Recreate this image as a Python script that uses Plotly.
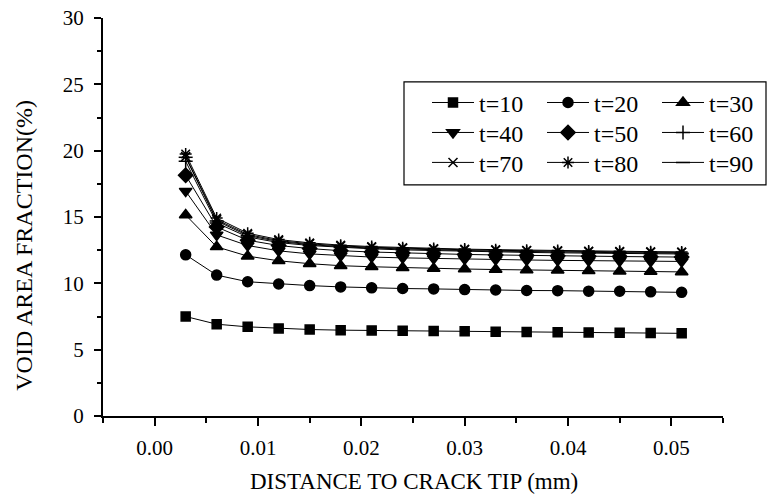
import plotly.graph_objects as go

distance = [0.003, 0.006, 0.009, 0.012, 0.015, 0.018, 0.021, 0.024, 0.027,
            0.030, 0.033, 0.036, 0.039, 0.042, 0.045, 0.048, 0.051]

t10 = [7.50, 6.92, 6.72, 6.60, 6.52, 6.47, 6.45, 6.43, 6.40, 6.38, 6.35, 6.33, 6.32, 6.30, 6.28, 6.26, 6.23]
t20 = [12.15, 10.62, 10.12, 9.95, 9.83, 9.73, 9.66, 9.61, 9.58, 9.53, 9.50, 9.46, 9.45, 9.41, 9.40, 9.36, 9.32]
t30 = [15.15, 12.75, 12.05, 11.70, 11.48, 11.33, 11.25, 11.18, 11.12, 11.08, 11.04, 11.01, 10.98, 10.95, 10.92, 10.89, 10.86]
t40 = [16.95, 13.65, 12.85, 12.45, 12.22, 12.08, 11.98, 11.92, 11.87, 11.83, 11.79, 11.76, 11.73, 11.71, 11.69, 11.67, 11.65]
t50 = [18.15, 14.25, 13.25, 12.85, 12.62, 12.46, 12.36, 12.29, 12.23, 12.18, 12.14, 12.10, 12.07, 12.04, 12.02, 12.00, 11.98]
t60 = [19.20, 14.55, 13.50, 13.07, 12.85, 12.70, 12.60, 12.52, 12.46, 12.41, 12.37, 12.33, 12.30, 12.27, 12.25, 12.23, 12.21]
t70 = [19.55, 14.80, 13.68, 13.22, 12.98, 12.82, 12.72, 12.64, 12.58, 12.53, 12.49, 12.45, 12.42, 12.39, 12.37, 12.35, 12.33]
t80 = [19.75, 14.92, 13.78, 13.30, 13.05, 12.88, 12.77, 12.69, 12.63, 12.58, 12.54, 12.50, 12.47, 12.44, 12.41, 12.39, 12.37]
t90 = [19.50, 14.70, 13.60, 13.15, 12.92, 12.76, 12.66, 12.58, 12.52, 12.47, 12.43, 12.39, 12.36, 12.33, 12.31, 12.29, 12.27]

series_names = ["t=10", "t=20", "t=30", "t=40", "t=50", "t=60", "t=70", "t=80", "t=90"]
series_values = [t10, t20, t30, t40, t50, t60, t70, t80, t90]

x_tickvals = [0.00, 0.01, 0.02, 0.03, 0.04, 0.05]
x_ticktext = ["0.00", "0.01", "0.02", "0.03", "0.04", "0.05"]
y_tickvals = [0, 5, 10, 15, 20, 25, 30]
y_ticktext = ["0", "5", "10", "15", "20", "25", "30"]

symbols = ["square", "circle", "triangle-up", "triangle-down", "diamond",
           "cross-thin-open", "x-thin-open", "asterisk-open", "line-ew-open"]
sizes = [9, 10, 11, 11, 11, 10, 9, 10, 10]
legend_ids = ["legend", "legend", "legend", "legend2", "legend2", "legend2",
              "legend3", "legend3", "legend3"]

FONT = "Liberation Serif, Times New Roman, serif"

W, H = 779, 497
PLOT_L, PLOT_R, PLOT_T, PLOT_B = 103, 723, 18, 416.5   # pixels
L = PLOT_L
R = W - PLOT_R
T = PLOT_T
B = H - PLOT_B
pw = PLOT_R - PLOT_L
ph = PLOT_B - PLOT_T


def px_to_paper_x(px):
    return (px - PLOT_L) / pw


def px_to_paper_y(py):
    return (PLOT_B - py) / ph


fig = go.Figure()
for name, vals, sym, sz, lg in zip(series_names, series_values, symbols, sizes, legend_ids):
    fig.add_trace(go.Scatter(
        x=distance, y=vals, name=name, mode="lines+markers",
        line=dict(color="black", width=1),
        marker=dict(symbol=sym, size=sz, color="black",
                    line=dict(color="black", width=1.5)),
        legend=lg,
    ))

legend_common = dict(
    orientation="h", xanchor="left", yanchor="middle",
    font=dict(family=FONT, size=24, color="black"),
    bgcolor="rgba(0,0,0,0)", borderwidth=0,
    entrywidth=58, entrywidthmode="pixels",
    itemwidth=42, tracegroupgap=0,
)
lx = px_to_paper_x(427)
fig.update_layout(
    legend=dict(x=lx, y=px_to_paper_y(103), **legend_common),
    legend2=dict(x=lx, y=px_to_paper_y(133), **legend_common),
    legend3=dict(x=lx, y=px_to_paper_y(163), **legend_common),
)

fig.add_shape(type="rect", xref="paper", yref="paper",
              x0=px_to_paper_x(404), x1=px_to_paper_x(766),
              y0=px_to_paper_y(185), y1=px_to_paper_y(82),
              line=dict(color="black", width=1.2), fillcolor="rgba(0,0,0,0)")

fig.update_layout(
    width=W, height=H,
    margin=dict(l=L, r=R, t=T, b=B, autoexpand=False),
    paper_bgcolor="white", plot_bgcolor="white",
    font=dict(family=FONT, size=21, color="black"),
    showlegend=True,
    xaxis=dict(
        range=[-0.005, 0.055], tickvals=x_tickvals, ticktext=x_ticktext,
        ticks="outside", ticklen=8, tickwidth=1.5, tickcolor="black",
        showline=True, linecolor="black", linewidth=2, mirror=False,
        showgrid=False, zeroline=False, ticklabelstandoff=4,
        ticklabeloverflow="allow",
        minor=dict(dtick=0.005, tick0=0, ticks="outside", ticklen=5,
                   tickwidth=1.5, tickcolor="black", showgrid=False),
        tickfont=dict(family=FONT, size=21, color="black"),
    ),
    yaxis=dict(
        range=[0, 30], tickvals=y_tickvals, ticktext=y_ticktext,
        ticks="outside", ticklen=7, tickwidth=1.5, tickcolor="black",
        showline=True, linecolor="black", linewidth=2, mirror=False,
        showgrid=False, zeroline=False, ticklabelstandoff=6,
        ticklabeloverflow="allow",
        minor=dict(dtick=2.5, tick0=0, ticks="outside", ticklen=4,
                   tickwidth=1.5, tickcolor="black", showgrid=False),
        tickfont=dict(family=FONT, size=21, color="black"),
    ),
    annotations=[
        dict(text="DISTANCE TO CRACK TIP (mm)", xref="paper", yref="paper",
             x=px_to_paper_x(414), y=px_to_paper_y(482), xanchor="center",
             yanchor="middle", showarrow=False,
             font=dict(family=FONT, size=23, color="black")),
        dict(text="VOID AREA FRACTION(%)", xref="paper", yref="paper",
             x=px_to_paper_x(24), y=px_to_paper_y(246), xanchor="center",
             yanchor="middle", showarrow=False, textangle=-90,
             font=dict(family=FONT, size=24, color="black")),
    ],
)

# Remove the browser's default body margin so the figure fills the window.
fig.write_html("out.html", config={"displayModeBar": False},
               post_script="document.body.style.margin='0';")
